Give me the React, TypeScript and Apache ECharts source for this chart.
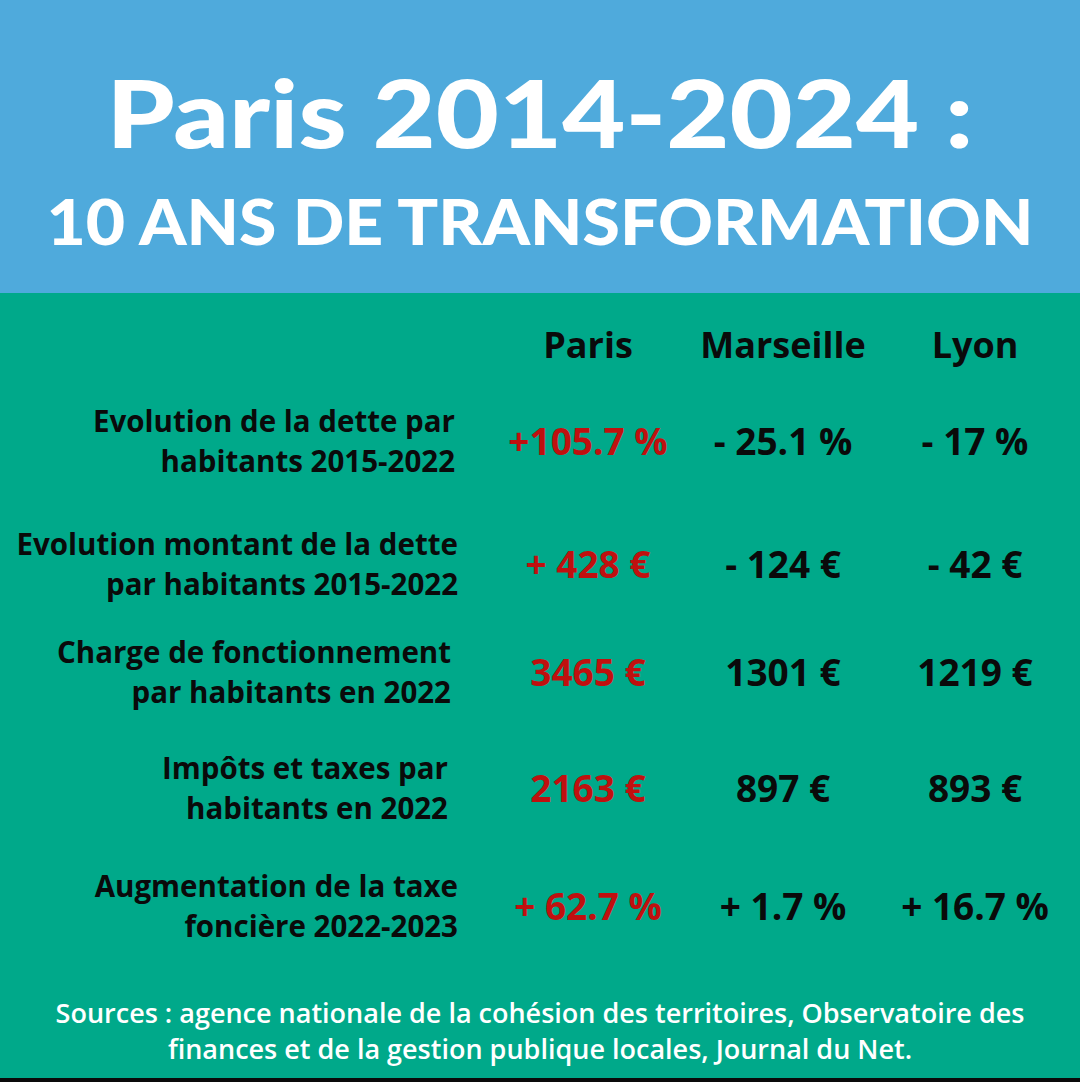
import React, { useEffect, useRef } from "react";
import * as echarts from "echarts";

const titleLine1 = "Paris 2014-2024 :";
const titleLine2 = "10 ANS DE TRANSFORMATION";
const cities = ["Paris", "Marseille", "Lyon"];
const rowLabels = [
  ["Evolution de la dette par", "habitants 2015-2022"],
  ["Evolution montant de la dette", "par habitants 2015-2022"],
  ["Charge de fonctionnement", "par habitants en 2022"],
  ["Impôts et taxes par", "habitants en 2022"],
  ["Augmentation de la taxe", "foncière 2022-2023"],
];
const parisValues = ["+105.7 %", "+ 428 €", "3465 €", "2163 €", "+ 62.7 %"];
const marseilleValues = ["- 25.1 %", "- 124 €", "1301 €", "897 €", "+ 1.7 %"];
const lyonValues = ["- 17 %", "- 42 €", "1219 €", "893 €", "+ 16.7 %"];
const sourcesLines = [
  "Sources : agence nationale de la cohésion des territoires, Observatoire des",
  "finances et de la gestion publique locales, Journal du Net.",
];

const BLUE = "#4FAADC";
const GREEN = "#00A98A";
const RED = "#C0100F";

export default function App() {
  const ref = useRef<HTMLDivElement>(null);
  useEffect(() => {
    document.body.style.margin = "0";
    const chart = echarts.init(ref.current!, null, { renderer: "svg" });
    const colX = [588, 783, 975];
    const rowY = [440, 563, 671, 787, 905];
    const labelRight = [455, 458, 451, 448, 458];
    const valueCols = [parisValues, marseilleValues, lyonValues];
    const elements: any[] = [
      { type: "rect", shape: { x: 0, y: 0, width: 1080, height: 293 }, style: { fill: BLUE } },
      { type: "rect", shape: { x: 0, y: 293, width: 1080, height: 789 }, style: { fill: GREEN } },
      { type: "rect", shape: { x: 0, y: 1078, width: 1080, height: 4 }, style: { fill: "#0a0a0a" } },
      {
        type: "text", x: 540, y: 112, scaleX: 1.16,
        style: { text: titleLine1, fill: "#fff", font: "900 94px Lato", textAlign: "center", textVerticalAlign: "middle" },
      },
      {
        type: "text", x: 540, y: 221, scaleX: 1.095,
        style: { text: titleLine2, fill: "#fff", font: "900 62px Lato", textAlign: "center", textVerticalAlign: "middle" },
      },
    ];
    cities.forEach((c, i) => {
      elements.push({
        type: "text", x: colX[i], y: 344,
        style: { text: c, fill: "#0a0a0a", font: "bold 36px 'Open Sans'", textAlign: "center", textVerticalAlign: "middle" },
      });
    });
    rowLabels.forEach((lines, r) => {
      lines.forEach((l, k) => {
        elements.push({
          type: "text", x: labelRight[r], y: rowY[r] - 20 + k * 40,
          style: { text: l, fill: "#0a0a0a", font: "bold 29.5px 'Open Sans'", textAlign: "right", textVerticalAlign: "middle" },
        });
      });
      valueCols.forEach((vals, ci) => {
        elements.push({
          type: "text", x: colX[ci], y: rowY[r],
          style: {
            text: vals[r], fill: ci === 0 ? RED : "#0a0a0a",
            font: "bold 37px 'Open Sans'", textAlign: "center", textVerticalAlign: "middle",
          },
        });
      });
    });
    sourcesLines.forEach((l, k) => {
      elements.push({
        type: "text", x: 540, y: 1012 + k * 36,
        style: { text: l, fill: "#fff", font: "600 27px 'Open Sans'", textAlign: "center", textVerticalAlign: "middle" },
      });
    });
    chart.setOption({ animation: false, graphic: { elements } });
    return () => chart.dispose();
  }, []);
  return <div ref={ref} style={{ width: 1080, height: 1082 }} />;
}
